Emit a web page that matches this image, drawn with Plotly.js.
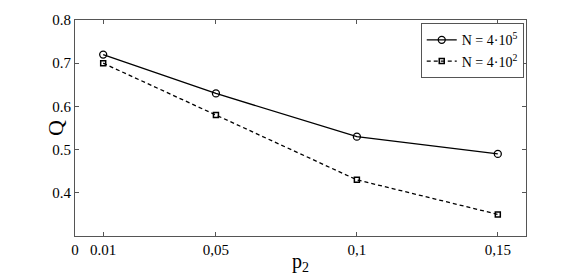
<!DOCTYPE html>
<html>
<head>
<meta charset="utf-8">
<script src="https://cdn.plot.ly/plotly-3.0.1.min.js"></script>
<style>html,body{margin:0;padding:0;background:#fff;}#chart{width:581px;height:275px;}</style>
</head>
<body>
<div id="chart"></div>
<script>
const p2 = [0.01, 0.05, 0.1, 0.15];
const qLarge = [0.72, 0.63, 0.53, 0.49];
const qSmall = [0.70, 0.58, 0.43, 0.35];
const xTickVals = [0, 0.01, 0.05, 0.1, 0.15];
const xTickText = ['0', '0.01', '0,05', '0,1', '0,15'];
const yTickVals = [0.4, 0.5, 0.6, 0.7, 0.8];
const yTickText = ['0.4', '0.5', '0.6', '0.7', '0.8'];
const seriesNames = ['N = 4·10<sup>5</sup>', 'N = 4·10<sup>2</sup>'];

const font = "'Liberation Serif', 'Times New Roman', serif";
const traces = [
  {x: p2, y: qLarge, name: seriesNames[0], type: 'scatter', mode: 'lines+markers',
   line: {color: '#000', width: 1.3, dash: 'solid'},
   marker: {symbol: 'circle-open', size: 7, color: '#000', line: {width: 1.3, color: '#000'}}},
  {x: p2, y: qSmall, name: seriesNames[1], type: 'scatter', mode: 'lines+markers',
   line: {color: '#000', width: 1.3, dash: '4px,3px'},
   marker: {symbol: 'square-open', size: 5, color: '#000', line: {width: 1.5, color: '#000'}}}
];
const axisCommon = {
  showline: true, linecolor: '#555', linewidth: 1, mirror: 'ticks',
  ticks: 'inside', ticklen: 4, tickcolor: '#555', showgrid: false, zeroline: false,
  tickfont: {family: font, size: 15, color: '#000'}
};
const layout = {
  width: 581, height: 275,
  margin: {l: 75, r: 55, t: 20, b: 39},
  paper_bgcolor: '#fff', plot_bgcolor: '#fff',
  font: {family: font, color: '#000'},
  xaxis: Object.assign({}, axisCommon, {
    range: [0, 0.16], tickvals: xTickVals, ticktext: xTickText,
    title: {text: 'p<sub>2</sub>', font: {family: font, size: 20}, standoff: 0}
  }),
  yaxis: Object.assign({}, axisCommon, {
    range: [0.3, 0.8], tickvals: yTickVals, ticktext: yTickText
  }),
  annotations: [{
    text: 'Q', xref: 'paper', yref: 'paper', x: 0, y: 0.5, xanchor: 'center', yanchor: 'middle',
    xshift: -20, textangle: -90, showarrow: false, font: {family: font, size: 22, color: '#000'}
  }],
  showlegend: true,
  legend: {x: 0.995, y: 0.985, xanchor: 'right', yanchor: 'top',
    bgcolor: '#fff', bordercolor: '#555', borderwidth: 1,
    font: {family: font, size: 14, color: '#000'}, tracegroupgap: 0, itemwidth: 30}
};
Plotly.newPlot('chart', traces, layout, {displayModeBar: false, staticPlot: true});
</script>
</body>
</html>
